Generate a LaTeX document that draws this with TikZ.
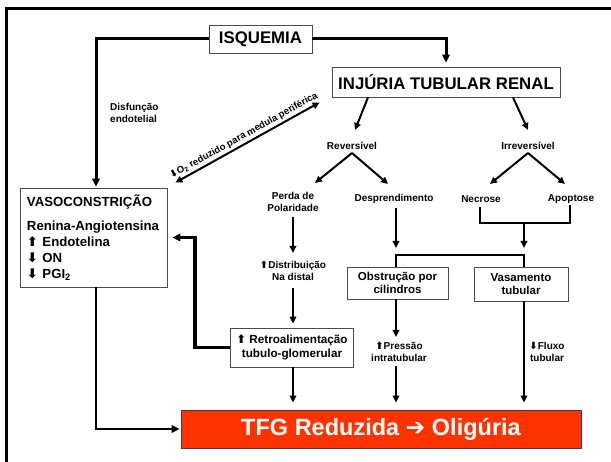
\documentclass[tikz,border=0pt]{standalone}
\usepackage{fontspec}
\setmainfont{Liberation Sans}
\newfontfamily\arrfont{DejaVu Sans}
\usetikzlibrary{arrows.meta}
\definecolor{tfgred}{RGB}{255,51,0}
\newcommand\ArrUp{{\arrfont\bfseries ⬆}}
\newcommand\ArrDown{{\arrfont\bfseries ⬇}}
\newcommand\ArrRight{{\arrfont\bfseries ➔}}
\begin{document}
\begin{tikzpicture}[x=1pt,y=-1pt,
  box/.style={draw=black!70,line width=0.8pt,fill=white,align=center,inner sep=2pt,font=\bfseries},
  lbl/.style={align=center,inner sep=1pt,font=\bfseries\fontsize{10}{12}\selectfont},
  conn/.style={line width=2pt},
  arr/.style={conn,-{Triangle[length=7pt,width=6.5pt]}},
  thk/.style={line width=3pt},
  arrT/.style={thk,-{Triangle[length=8pt,width=7.5pt]}},
  big/.style={font=\bfseries\fontsize{16.8}{19}\selectfont},
  mid/.style={font=\bfseries\fontsize{11.5}{13.5}\selectfont},
]
\useasboundingbox (0,0) rectangle (611,462);
\fill[white] (0,0) rectangle (611,462);
\draw[line width=3pt] (611,9) -- (6.5,9) -- (6.5,462);

% nodes
\node[box,big,minimum width=103pt,minimum height=28pt] (isq) at (260.5,39) {ISQUEMIA};
\node[box,big,minimum width=228pt,minimum height=30pt] (inj) at (446,82) {INJÚRIA TUBULAR RENAL};
\node[box,minimum width=147pt,minimum height=99pt,text width=133pt,align=left,inner xsep=7pt,
      font=\bfseries\fontsize{13.2}{16}\selectfont] (vaso) at (93.5,237.5)
  {\mbox{VASOCONSTRIÇÃO}\\[8pt]\mbox{Renina-Angiotensina}\\\ArrUp\ Endotelina\\\ArrDown\ ON\\\ArrDown\ PGI\textsubscript{2}};
\node[lbl,align=left,anchor=west] (disf) at (109,113) {Disfunção\\endotelial};
\node[lbl] (rev) at (352,146) {Reversível};
\node[lbl] (irr) at (528,146) {Irreversível};
\node[lbl] (perda) at (293,202) {Perda de\\Polaridade};
\node[lbl] (desp) at (394,199) {Desprendimento};
\node[lbl] (necr) at (481,199) {Necrose};
\node[lbl] (apop) at (571,199) {Apoptose};
\node[lbl] (dist) at (293,271) {\ArrUp Distribuição\\Na distal};
\node[box,minimum width=123pt,minimum height=39pt,font=\bfseries\fontsize{11.7}{14}\selectfont] (retro) at (292,347.5) {\ArrUp\ Retroalimentação\\tubulo-glomerular};
\node[box,mid,minimum width=101pt,minimum height=32pt] (obst) at (397.5,283) {Obstrução por\\cilindros};
\node[box,mid,minimum width=94pt,minimum height=34pt] (vasam) at (521,284) {Vasamento\\tubular};
\node[lbl] (press) at (399,352) {\ArrUp Pressão\\intratubular};
\node[lbl] (fluxo) at (547,352) {\ArrDown Fluxo\\tubular};
\node[box,draw=black!75,fill=tfgred,text=white,minimum width=400pt,minimum height=38pt,
      font=\bfseries\fontsize{23.5}{27}\selectfont] (tfg) at (381,429) {TFG Reduzida \ArrRight{} Oligúria};

% helper coordinates
\coordinate (vx) at (96,0);
\coordinate (bl) at (396,255);
\coordinate (br) at (524,255);
\coordinate (nb) at (480,223);
\coordinate (ab) at (570,223);

% connectors
\draw[arrT,shorten >=1pt] (isq.west) -| (vx |- vaso.north);
\draw[arrT,shorten >=4pt] (isq.east) -| (inj.north);
\draw[conn,{Triangle[length=7pt,width=6.5pt]}-{Triangle[length=7pt,width=6.5pt]}]
  ([shift={(8,-5)}]vaso.north east) -- node[midway,sloped,above=1pt,inner sep=1pt,font=\bfseries\fontsize{9.6}{10}\selectfont]
  {\ArrDown O\textsubscript{2} reduzido para medula periférica} ([shift={(-12,5)}]inj.south west);
\draw[arr] ([shift={(-78,0)}]inj.south) -- ([shift={(3,-16)}]rev.center);
\draw[arr] ([shift={(67,0)}]inj.south) -- ([shift={(0,-16)}]irr.center);
\draw[arr] ([shift={(0,7)}]rev.center) -- ([shift={(22,-19)}]perda.center);
\draw[arr] ([shift={(0,7)}]rev.center) -- ([shift={(-6,-15)}]desp.center);
\draw[arr] ([shift={(0,7)}]irr.center) -- ([shift={(9,-15)}]necr.center);
\draw[arr] ([shift={(0,7)}]irr.center) -- ([shift={(-6,-15)}]apop.center);
\draw[arr] ([shift={(0,15)}]perda.center) -- ([shift={(0,-18)}]dist.center);
\draw[arr,shorten >=4pt] ([shift={(0,17)}]dist.center) -- (dist |- retro.north);
\draw[arrT,line width=3.3pt,shorten >=5pt] (retro.west) -- ++(-35,0) |- (vaso.east);
\draw[arr,shorten >=7pt] (dist |- retro.south) -- (dist |- tfg.north);
\draw[conn] (bl |- obst.north) -- (bl) -- (br) -- (br |- vasam.north);
\draw[arr,shorten <=3pt] (bl |- desp.south) -- ([shift={(0,-7)}]bl);
\draw[conn,shorten <=3pt] (nb |- necr.south) -- (nb) -- (ab) -- (ab |- apop.south);
\draw[arr] (br |- nb) -- ([shift={(0,-7)}]br);
\draw[arr] (bl |- obst.south) -- ([shift={(-3,-15)}]press.center);
\draw[arr,shorten >=7pt] ([shift={(-3,14)}]press.center) -- (bl |- tfg.north);
\draw[arr,shorten >=7pt] (br |- vasam.south) -- (br |- tfg.north);
\draw[arrT,line width=2.8pt,shorten >=1pt] (vx |- vaso.south) |- (tfg.west);
\end{tikzpicture}
\end{document}
